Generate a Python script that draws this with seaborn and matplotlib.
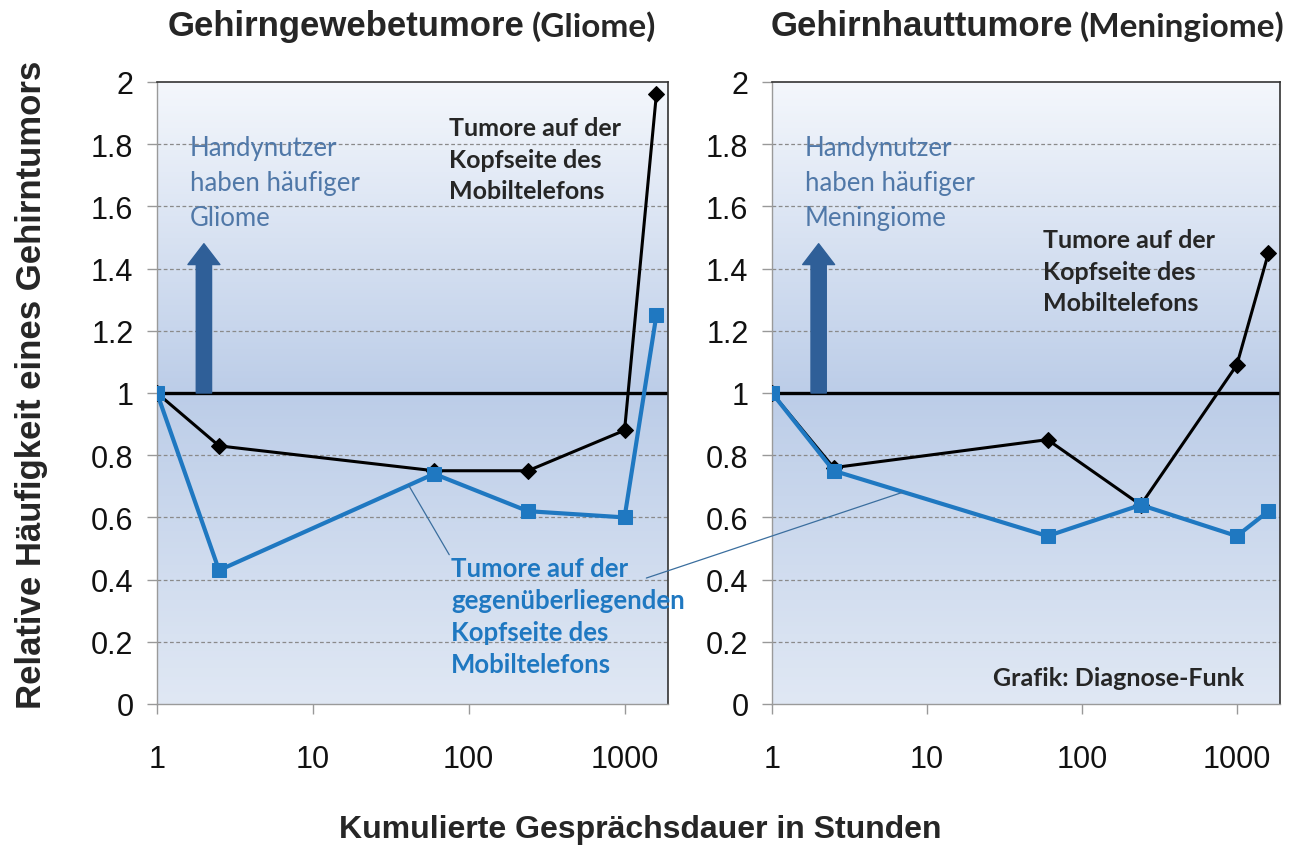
import numpy as np
import seaborn as sns
import matplotlib.pyplot as plt
from matplotlib.colors import LinearSegmentedColormap
from matplotlib.patches import ConnectionPatch

# Data
hours = [1, 2.5, 60, 240, 1000, 1600]
gliom_same_side = [1, 0.83, 0.75, 0.75, 0.88, 1.96]
gliom_other_side = [1, 0.43, 0.74, 0.62, 0.60, 1.25]
mening_same_side = [1, 0.76, 0.85, 0.64, 1.09, 1.45]
mening_other_side = [1, 0.75, 0.54, 0.64, 0.54, 0.62]

x_ticks = [1, 10, 100, 1000]
y_ticks = [0, 0.2, 0.4, 0.6, 0.8, 1, 1.2, 1.4, 1.6, 1.8, 2]

sns.set_style("white")
plt.rcParams["font.family"] = ["Liberation Sans", "DejaVu Sans"]

BLACK = "#000000"
BLUE = "#1f78c1"
STEEL = "#5078a8"
ARROW = "#2f5f98"
CALIBRI = ["Lato", "DejaVu Sans"]

bg_cmap = LinearSegmentedColormap.from_list(
    "bg", [(0, "#e0e8f4"), (0.5, "#bccde8"), (1, "#f4f7fc")])

fig = plt.figure(figsize=(12.93, 8.53), dpi=100)
ax1 = fig.add_axes([157 / 1293, 1 - 705 / 853, 511 / 1293, 622 / 853])
ax2 = fig.add_axes([772 / 1293, 1 - 705 / 853, 508 / 1293, 622 / 853])


def style_panel(ax):
    grad = np.linspace(0, 1, 256).reshape(-1, 1)
    ax.imshow(grad, extent=[0, 1, 0, 1], transform=ax.transAxes, origin="lower",
              aspect="auto", cmap=bg_cmap, zorder=0)
    ax.set_xscale("log")
    ax.set_xlim(1, 1900)
    ax.set_ylim(0, 2)
    ax.set_xticks(x_ticks)
    ax.set_xticklabels([str(t) for t in x_ticks])
    ax.xaxis.set_minor_locator(plt.NullLocator())
    ax.set_yticks(y_ticks)
    ax.set_yticklabels(["%g" % t for t in y_ticks])
    for y in y_ticks[1:-1]:
        ax.axhline(y, color="#8a8a8a", lw=0.9, ls=(0, (3, 2)), zorder=1)
    ax.axhline(1, color=BLACK, lw=2.4, zorder=2)
    ax.tick_params(axis="both", labelsize=22, colors="#999999", labelcolor="#111111",
                   length=7, width=1, direction="out", left=True, bottom=True)
    ax.tick_params(axis="x", pad=22)
    ax.tick_params(axis="y", pad=10)
    for side in ["left", "bottom"]:
        ax.spines[side].set_color("#9a9a9a")
        ax.spines[side].set_linewidth(1.0)
    for side in ["top", "right"]:
        ax.spines[side].set_color("#333333")
        ax.spines[side].set_linewidth(1.2)
    ax.set_xlabel("")
    ax.set_ylabel("")


def draw_lines(ax, same_side, other_side):
    sns.lineplot(x=hours, y=other_side, ax=ax, color=BLUE, lw=3.0, marker="s",
                 markersize=10, markeredgecolor=BLUE, zorder=4, sort=False)
    sns.lineplot(x=hours, y=same_side, ax=ax, color=BLACK, lw=2.2, marker="D",
                 markersize=8, markeredgecolor=BLACK, zorder=3, sort=False)


for ax in (ax1, ax2):
    style_panel(ax)

draw_lines(ax1, gliom_same_side, gliom_other_side)
draw_lines(ax2, mening_same_side, mening_other_side)

# titles, two fonts each
ax1.text(0.72, 1.075, "Gehirngewebetumore", transform=ax1.transAxes, ha="right",
         va="baseline", fontsize=25, fontweight="bold")
ax1.text(0.733, 1.075, "(Gliome)", transform=ax1.transAxes, ha="left",
         va="baseline", fontsize=24, fontweight="bold", family=CALIBRI)
ax2.text(0.593, 1.075, "Gehirnhauttumore", transform=ax2.transAxes, ha="right",
         va="baseline", fontsize=25, fontweight="bold")
ax2.text(0.606, 1.075, "(Meningiome)", transform=ax2.transAxes, ha="left",
         va="baseline", fontsize=24, fontweight="bold", family=CALIBRI)

# arrows + "Handynutzer" notes
for ax, word in ((ax1, "Gliome"), (ax2, "Meningiome")):
    ax.annotate("", xy=(2, 1.48), xytext=(2, 1.0), zorder=2,
                arrowprops=dict(arrowstyle="simple,head_length=0.75,head_width=1.15,tail_width=0.55",
                                mutation_scale=20, color=ARROW, shrinkA=0, shrinkB=0))
    ax.text(1.63, 1.83, "Handynutzer\nhaben häufiger\n" + word, color=STEEL,
            fontsize=18.5, family=CALIBRI, va="top", ha="left", linespacing=1.5, zorder=5)

ax1.text(75, 1.89, "Tumore auf der\nKopfseite des\nMobiltelefons", fontsize=18,
         fontweight="bold", family=CALIBRI, va="top", ha="left", linespacing=1.45, zorder=5)
ax2.text(56, 1.53, "Tumore auf der\nKopfseite des\nMobiltelefons", fontsize=18,
         fontweight="bold", family=CALIBRI, va="top", ha="left", linespacing=1.45, zorder=5)
ax1.text(77, 0.475, "Tumore auf der\ngegenüberliegenden\nKopfseite des\nMobiltelefons",
         fontsize=18.5, fontweight="bold", family=CALIBRI, color=BLUE, va="top", ha="left",
         linespacing=1.4, zorder=5, clip_on=False)
ax2.text(26.5, 0.085, "Grafik: Diagnose-Funk", fontsize=18, fontweight="bold",
         family=CALIBRI, va="center", ha="left", zorder=5)

# thin leader lines from the blue label to both blue curves
ax1.plot([75, 41], [0.48, 0.705], color="#3a6e9e", lw=0.9, zorder=5)
con = ConnectionPatch(xyA=(1380, 0.405), coordsA=ax1.transData,
                      xyB=(6.9, 0.68), coordsB=ax2.transData,
                      color="#3a6e9e", lw=0.9, zorder=6)
fig.add_artist(con)

fig.text(0.024, 1 - 385 / 853, "Relative Häufigkeit eines Gehirntumors", rotation=90,
         ha="center", va="center", fontsize=25, fontweight="bold")
fig.text(0.495, 1 - 830 / 853, "Kumulierte Gesprächsdauer in Stunden", ha="center",
         va="center", fontsize=23, fontweight="bold")

fig.savefig("out.png", dpi=100, facecolor="white")
